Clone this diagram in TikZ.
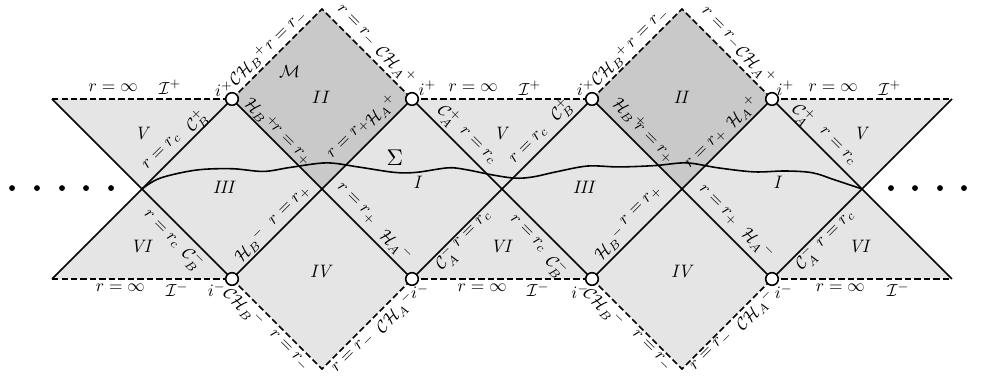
\documentclass[tikz,border=0pt]{standalone}
\usepackage{amsmath}
\begin{document}
\begin{tikzpicture}[x=1cm,y=1cm]
\tikzset{
 lab/.style={scale=0.55, inner sep=0pt},
 roman/.style={scale=0.57, inner sep=0pt, execute at begin node=$\mathit\bgroup, execute at end node=\egroup$},
 solidline/.style={line width=0.5pt},
 dashline/.style={line width=0.5pt, dash pattern=on 2pt off 1pt},
 hole/.style={circle, draw, fill=white, line width=0.5pt, minimum size=0.14cm, inner sep=0pt},
 dotnode/.style={circle, fill=black, minimum size=0.065cm, inner sep=0pt},
}
\useasboundingbox (-5.578,-2.089) rectangle (5.378,2.1);
% grid points
\coordinate (L1) at (-5,1);  \coordinate (L2) at (-5,-1);
\coordinate (A) at (-4,0);
\coordinate (Tp1) at (-3,1); \coordinate (Tm1) at (-3,-1);
\coordinate (B) at (-2,0);
\coordinate (D1t) at (-2,2); \coordinate (D1b) at (-2,-2);
\coordinate (Tp2) at (-1,1); \coordinate (Tm2) at (-1,-1);
\coordinate (C) at (0,0);
\coordinate (Tp3) at (1,1); \coordinate (Tm3) at (1,-1);
\coordinate (E) at (2,0);
\coordinate (D2t) at (2,2); \coordinate (D2b) at (2,-2);
\coordinate (Tp4) at (3,1); \coordinate (Tm4) at (3,-1);
\coordinate (F) at (4,0);
\coordinate (R1) at (5,1);  \coordinate (R2) at (5,-1);
% shading
\fill[black!10] (L1) -- (Tp1) -- (D1t) -- (Tp2) -- (Tp3) -- (D2t) -- (Tp4) -- (R1) -- (F) -- (R2) -- (Tm4) -- (D2b) -- (Tm3) -- (Tm2) -- (D1b) -- (Tm1) -- (L2) -- (A) -- cycle;
\fill[black!21] (Tp1) -- (D1t) -- (Tp2) -- (B) -- cycle;
\fill[black!21] (Tp3) -- (D2t) -- (Tp4) -- (E) -- cycle;
% solid diagonals
\draw[solidline] (L1) -- (Tm1);
\draw[solidline] (L2) -- (Tp1);
\draw[solidline] (Tp1) -- (Tm2);
\draw[solidline] (Tm1) -- (Tp2);
\draw[solidline] (Tp2) -- (Tm3);
\draw[solidline] (Tm2) -- (Tp3);
\draw[solidline] (Tp3) -- (Tm4);
\draw[solidline] (Tm3) -- (Tp4);
\draw[solidline] (Tp4) -- (R2);
\draw[solidline] (Tm4) -- (R1);
% dashed boundaries
\draw[dashline] (L1) -- (Tp1);
\draw[dashline] (Tp1) -- (D1t) -- (Tp2);
\draw[dashline] (Tp2) -- (Tp3);
\draw[dashline] (Tp3) -- (D2t) -- (Tp4);
\draw[dashline] (Tp4) -- (R1);
\draw[dashline] (L2) -- (Tm1);
\draw[dashline] (Tm1) -- (D1b) -- (Tm2);
\draw[dashline] (Tm2) -- (Tm3);
\draw[dashline] (Tm3) -- (D2b) -- (Tm4);
\draw[dashline] (Tm4) -- (R2);
% Sigma curve
\draw[solidline] plot[smooth, tension=0.55] coordinates {(A) (-3.8,0.12) (-3.4,0.21) (-3.0,0.225) (-2.65,0.195) (-2.35,0.24) (-1.95,0.29) (-1.6,0.245) (-1.2,0.185) (-0.95,0.185) (-0.6,0.235) (-0.4,0.215) (-0.1,0.155) (0.15,0.12) (0.35,0.135) (0.6,0.19) (0.95,0.255) (1.3,0.245) (1.7,0.26) (2.05,0.29) (2.4,0.235) (2.8,0.19) (3.15,0.2) (3.45,0.18) (3.7,0.1) (F)};
% holes
\node[hole] (h1) at (Tp1) {};
\node[hole] (h2) at (Tp2) {};
\node[hole] (h3) at (Tp3) {};
\node[hole] (h4) at (Tp4) {};
\node[hole] (h5) at (Tm1) {};
\node[hole] (h6) at (Tm2) {};
\node[hole] (h7) at (Tm3) {};
\node[hole] (h8) at (Tm4) {};
% dots
\node[dotnode] (d1) at (-5.444,0.01) {};
\node[dotnode] (d2) at (-5.167,0.01) {};
\node[dotnode] (d3) at (-4.889,0.01) {};
\node[dotnode] (d4) at (-4.622,0.01) {};
\node[dotnode] (d5) at (-4.344,0.01) {};
\node[dotnode] (d6) at (4.322,0.01) {};
\node[dotnode] (d7) at (4.589,0.01) {};
\node[dotnode] (d8) at (4.867,0.01) {};
\node[dotnode] (d9) at (5.133,0.01) {};
% top labels
\node[lab] (n1) at (-4.32,1.13) {$r=\infty$};
\node[lab] (n2) at (-3.69,1.13) {$\mathcal{I}^+$};
\node[lab] (n3) at (-3.09,1.11) {$i^+$};
\node[lab,rotate=45] (n4) at (-2.81,1.37) {$\mathcal{CH}_B{}^+$};
\node[lab,rotate=45] (n5) at (-2.39,1.75) {$r=r_-$};
\node[lab] (n6) at (-2.36,1.3) {$\mathcal{M}$};
\node[roman] (n7) at (-2.01,1.02) {II};
\node[roman] (n8) at (-3.99,0.62) {V};
\node[lab,rotate=45] (n9) at (-3.39,0.75) {$\mathcal{C}_B^+$};
\node[lab,rotate=45] (n10) at (-3.78,0.42) {$r=r_c$};
\node[lab,rotate=-45] (n11) at (-2.68,0.83) {$\mathcal{H}_B{}^+$};
\node[lab,rotate=-45] (n12) at (-2.35,0.48) {$r=r_+$};
\node[lab,rotate=-45] (n13) at (-1.62,1.81) {$r=r_-$};
\node[lab,rotate=-45] (n14) at (-1.18,1.37) {$\mathcal{CH}_A{}^+$};
\node[lab] (n15) at (-0.83,1.12) {$i^+$};
\node[lab] (n16) at (-0.32,1.12) {$r=\infty$};
\node[lab] (n17) at (0.31,1.12) {$\mathcal{I}^+$};
\node[lab] (n18) at (0.93,1.12) {$i^+$};
\node[lab,rotate=45] (n19) at (1.21,1.37) {$\mathcal{CH}_B{}^+$};
\node[lab,rotate=45] (n20) at (-1.34,0.87) {$\mathcal{H}_A{}^+$};
\node[lab,rotate=45] (n21) at (-1.7,0.55) {$r=r_+$};
\node[scale=0.72,inner sep=0pt] (n22) at (-1.19,0.35) {$\Sigma$};
\node[lab,rotate=-45] (n23) at (-0.6,0.81) {$\mathcal{C}_A^+$};
\node[lab,rotate=-45] (n24) at (-0.27,0.48) {$r=r_c$};
\node[roman] (n25) at (0,0.62) {V};
\node[lab,rotate=45] (n26) at (0.66,0.87) {$\mathcal{C}_B^+$};
\node[lab,rotate=45] (n27) at (0.3,0.48) {$r=r_c$};
\node[roman] (n28) at (-0.93,0.07) {I};
\node[roman] (n29) at (-3.08,0.02) {III};
\node[roman] (n29b) at (0.92,0.02) {III};
\node[roman] (n28b) at (3.07,0.07) {I};
\node[lab,rotate=45] (n30) at (1.63,1.78) {$r=r_-$};
\node[lab,rotate=-45] (n31) at (2.43,1.78) {$r=r_-$};
\node[lab,rotate=-45] (n32) at (2.82,1.37) {$\mathcal{CH}_A{}^+$};
\node[lab] (n33) at (3.15,1.12) {$i^+$};
\node[lab] (n34) at (3.68,1.12) {$r=\infty$};
\node[lab] (n35) at (4.31,1.12) {$\mathcal{I}^+$};
\node[roman] (n36) at (2.0,1.02) {II};
\node[lab,rotate=-45] (n37) at (1.41,0.83) {$\mathcal{H}_B{}^+$};
\node[lab,rotate=-45] (n38) at (1.68,0.5) {$r=r_+$};
\node[lab,rotate=45] (n39) at (2.27,0.44) {$r=r_+$};
\node[lab,rotate=45] (n40) at (2.67,0.85) {$\mathcal{H}_A{}^+$};
\node[lab,rotate=-45] (n41) at (3.34,0.83) {$\mathcal{C}_A^+$};
\node[lab,rotate=-45] (n42) at (3.73,0.47) {$r=r_c$};
\node[roman] (n43) at (4.0,0.62) {V};
% bottom labels
\node[roman] (n44) at (-4.0,-0.64) {VI};
\node[lab,rotate=-45] (n45) at (-3.78,-0.45) {$r=r_c$};
\node[lab,rotate=-45] (n46) at (-3.44,-0.78) {$\mathcal{C}_B^-$};
\node[lab,rotate=45] (n47) at (-2.79,-0.63) {$\mathcal{H}_B{}^-$};
\node[lab,rotate=45] (n48) at (-2.35,-0.19) {$r=r_+$};
\node[lab] (n49) at (-4.24,-1.1) {$r=\infty$};
\node[lab] (n50) at (-3.61,-1.12) {$\mathcal{I}^-$};
\node[lab] (n51) at (-3.17,-1.12) {$i^-$};
\node[lab,rotate=-45] (n52) at (-2.87,-1.32) {$\mathcal{CH}_B{}^-$};
\node[lab,rotate=-45] (n53) at (-2.37,-1.8) {$r=r_-$};
\node[roman] (n54) at (-2,-0.92) {IV};
\node[lab,rotate=-45] (n55) at (-1.62,-0.17) {$r=r_+$};
\node[lab,rotate=-45] (n56) at (-1.18,-0.63) {$\mathcal{H}_A{}^-$};
\node[lab,rotate=45] (n57) at (-0.62,-0.78) {$\mathcal{C}_A^-$};
\node[lab,rotate=45] (n58) at (-0.33,-0.45) {$r=r_c$};
\node[roman] (n59) at (0,-0.64) {VI};
\node[lab,rotate=-45] (n60) at (0.29,-0.5) {$r=r_c$};
\node[lab,rotate=-45] (n61) at (0.6,-0.86) {$\mathcal{C}_B^-$};
\node[lab,rotate=45] (n62) at (1.21,-0.61) {$\mathcal{H}_B{}^-$};
\node[lab] (n63) at (-0.91,-1.14) {$i^-$};
\node[lab] (n64) at (-0.22,-1.1) {$r=\infty$};
\node[lab] (n65) at (0.4,-1.12) {$\mathcal{I}^-$};
\node[lab] (n66) at (0.87,-1.14) {$i^-$};
\node[lab,rotate=-45] (n67) at (1.13,-1.32) {$\mathcal{CH}_B{}^-$};
\node[lab,rotate=45] (n68) at (-1.18,-1.38) {$\mathcal{CH}_A{}^-$};
\node[lab,rotate=45] (n69) at (-1.65,-1.83) {$r=r_-$};
\node[lab,rotate=45] (n70) at (1.55,-0.19) {$r=r_+$};
\node[lab,rotate=-45] (n71) at (2.4,-0.19) {$r=r_+$};
\node[lab,rotate=-45] (n72) at (2.84,-0.61) {$\mathcal{H}_A{}^-$};
\node[lab,rotate=45] (n73) at (3.38,-0.78) {$\mathcal{C}_A^-$};
\node[lab,rotate=45] (n74) at (3.71,-0.45) {$r=r_c$};
\node[roman] (n75) at (3.98,-0.64) {VI};
\node[roman] (n76) at (2.01,-0.92) {IV};
\node[lab] (n77) at (3.13,-1.14) {$i^-$};
\node[lab] (n78) at (3.76,-1.1) {$r=\infty$};
\node[lab] (n79) at (4.4,-1.12) {$\mathcal{I}^-$};
\node[lab,rotate=45] (n80) at (2.82,-1.35) {$\mathcal{CH}_A{}^-$};
\node[lab,rotate=45] (n81) at (2.33,-1.8) {$r=r_-$};
\node[lab,rotate=-45] (n82) at (1.66,-1.8) {$r=r_-$};
\end{tikzpicture}
\end{document}
